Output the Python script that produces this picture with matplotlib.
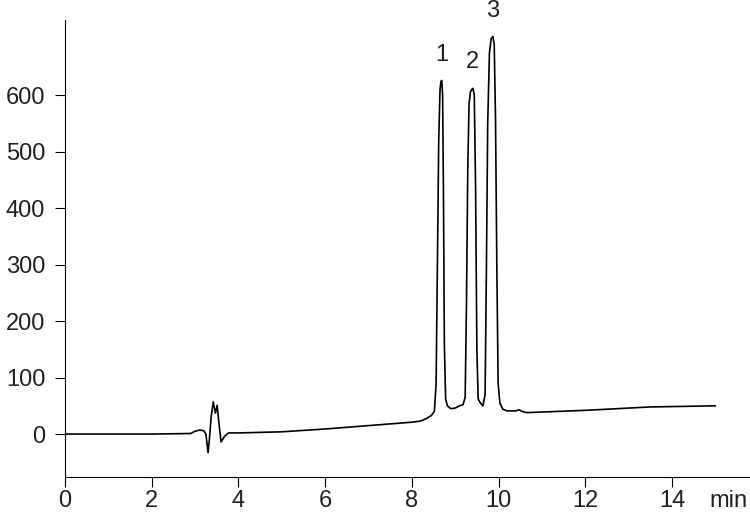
import matplotlib
matplotlib.use("Agg")
from matplotlib import pyplot as plt

tempo = [0.0, 1.0, 2.0, 2.9, 3.0, 3.1, 3.2, 3.25, 3.30, 3.33, 3.37, 3.42, 3.47, 3.51,
         3.55, 3.60, 3.68, 3.77, 4.0, 4.5, 5.0, 6.0, 7.0, 8.0, 8.2, 8.35, 8.45, 8.52,
         8.56, 8.59, 8.62, 8.65, 8.67, 8.69, 8.71, 8.73, 8.75, 8.78, 8.82, 8.90, 9.00,
         9.10, 9.18, 9.23, 9.26, 9.29, 9.32, 9.35, 9.38, 9.41, 9.44, 9.47, 9.50, 9.53,
         9.58, 9.64, 9.69, 9.72, 9.75, 9.79, 9.83, 9.87, 9.90, 9.93, 9.96, 9.99,
         10.03, 10.10, 10.20, 10.40, 10.47, 10.55, 10.65, 12.0, 13.5, 15.0]
sinal = [0, 0, 0, 1, 5, 7, 6, 0, -33, -10, 30, 57, 37, 51,
         20, -14, -4, 2, 2, 3, 4, 9, 15, 21, 23, 28, 33, 40,
         90, 300, 520, 610, 624, 626, 600, 420, 160, 62, 50, 45, 46,
         50, 52, 65, 230, 470, 585, 605, 610, 612, 600, 440, 150, 62,
         55, 50, 70, 290, 550, 675, 700, 704, 690, 560, 300, 90,
         55, 44, 41, 41, 43, 40, 38, 42, 48, 50]

picos = ["1", "2", "3"]
picos_x = [8.69, 9.40, 9.87]
picos_y = [671, 658, 749]

xticks = [0, 2, 4, 6, 8, 10, 12, 14]
yticks = [0, 100, 200, 300, 400, 500, 600]

cor = "#231f20"
tam = 17
plt.rcParams["font.family"] = ["Liberation Sans", "DejaVu Sans"]

fig = plt.figure(figsize=(7.5, 5.17), dpi=100)
ax = fig.add_axes([65 / 750, 1 - 477 / 517, 1 - 65 / 750, (477 - 20) / 517])

ax.plot(tempo, sinal, color="black", linewidth=1.2)

for t, x, y in zip(picos, picos_x, picos_y):
    ax.text(x, y, t, ha="center", va="center", fontsize=tam, color=cor)

ax.set_xlim(0, 15.8)
ax.set_ylim(-76, 733)
ax.set_xticks(xticks)
ax.set_yticks(yticks)
ax.tick_params(axis="both", direction="out", length=7.2, width=0.8,
               labelsize=tam, labelcolor=cor, color="black")
ax.tick_params(axis="x", pad=2.2)
ax.tick_params(axis="y", pad=7)

for s in ["top", "right"]:
    ax.spines[s].set_visible(False)
for s in ["left", "bottom"]:
    ax.spines[s].set_linewidth(0.8)

ax.annotate("min", xy=(15.3, 0), xycoords=("data", "axes fraction"),
            xytext=(0, -9.4), textcoords="offset points",
            ha="center", va="top", fontsize=tam, color=cor)

fig.savefig("out.png", dpi=100)
